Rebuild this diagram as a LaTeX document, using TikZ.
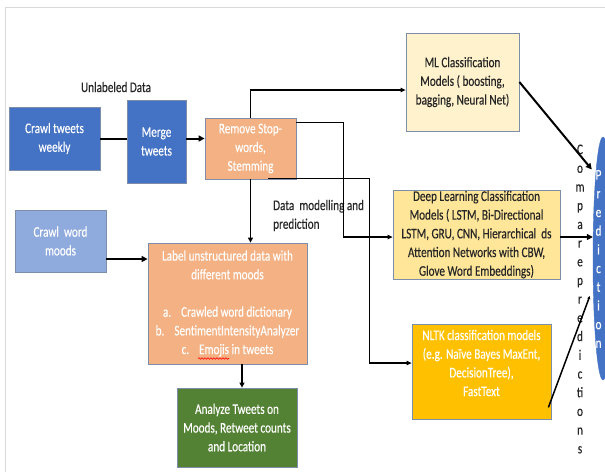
\documentclass[tikz,border=0pt]{standalone}
\usepackage{fontspec}
\setmainfont[FakeStretch=0.76,FakeBold=0.3]{Carlito}
\usetikzlibrary{arrows.meta,calc,shapes.geometric,decorations.pathmorphing}
\definecolor{blueA}{HTML}{4472C4}
\definecolor{blueL}{HTML}{8FAADC}
\definecolor{orng}{HTML}{F4B183}
\definecolor{ylwL}{HTML}{FFF2CC}
\definecolor{ylwM}{HTML}{FFE699}
\definecolor{gold}{HTML}{FFC000}
\definecolor{grn}{HTML}{548235}
\definecolor{edgec}{HTML}{7E8DA8}
\definecolor{framec}{HTML}{D9D9D9}
\definecolor{ink}{HTML}{262626}
\begin{document}
\begin{tikzpicture}[x=1pt,y=-1pt,
  txt/.style={font=\fontsize{14.7}{18.7}\selectfont, align=center, inner sep=0pt},
  box/.style={draw=edgec, line width=0.8pt, rectangle, inner sep=0pt, txt},
  thk/.style={line width=2pt, -{Triangle[length=6pt,width=6pt]}},
  thkplain/.style={line width=2pt},
  thn/.style={line width=1.1pt, -{Triangle[length=5pt,width=4.5pt]}},
  mid/.style={line width=1.5pt, -{Triangle[length=5pt,width=5pt]}}
]
\useasboundingbox (0,0) rectangle (605,472);
\draw[framec, line width=1pt] (5,472) -- (5,7) -- (605,7);

\node[box, fill=blueA, text=white, minimum width=91pt, minimum height=63pt] (crawl) at (54.5,138.5) {Crawl tweets\\weekly};
\node[box, fill=blueA, text=white, minimum width=59pt, minimum height=83pt] (merge) at (156.5,141.5) {Merge\\tweets};
\node[box, fill=orng, text=white, minimum width=91pt, minimum height=61pt] (remove) at (250.5,148.5) {Remove Stop-\\words,\\Stemming};
\node[box, fill=ylwL, text=ink, minimum width=113pt, minimum height=98pt] (ml) at (462.5,82) {ML Classification\\Models ( boosting,\\bagging, Neural Net)};
\node[box, fill=ylwM, text=ink, minimum width=167pt, minimum height=89pt] (deep) at (476.5,234.5) {Deep Learning Classification\\Models ( LSTM, Bi-Directional\\LSTM, GRU, CNN, Hierarchical\ \ ds\\Attention Networks with CBW,\\Glove Word Embeddings)};
\node[box, fill=gold, minimum width=139pt, minimum height=95pt] (nltk) at (481.5,371.5) {};
\node[txt, text=white] (nltkt) at (481.5,363) {NLTK classification models\\(e.g. Naïve Bayes MaxEnt,\\DecisionTree),\\FastText};
\node[box, fill=blueL, text=white, minimum width=91pt, minimum height=62pt] (moods) at (60.5,241) {Crawl\ \ word\\moods};
\node[box, fill=orng, text=white, minimum width=159pt, minimum height=121pt] (label) at (227.5,303.5) {Label unstructured data with\\different moods\\[18.7pt]a.\hspace{10pt}Crawled word dictionary\\b.\hspace{10pt}SentimentIntensityAnalyzer\\c.\hspace{10pt}Emojis in tweets};
\node[box, fill=grn, text=white, minimum width=120pt, minimum height=79pt] (analyze) at (237,427.5) {Analyze Tweets on\\Moods, Retweet counts\\and Location};
\node[ellipse, draw=blueA, fill=blueA, inner sep=0pt, minimum width=20pt, minimum height=243pt] (pred) at (603,258.5) {};
\node[txt, text=white] (predt) at (598.5,259) {P\\r\\e\\d\\i\\c\\t\\i\\o\\n};

\node[txt, text=ink] (unl) at (116,87) {Unlabeled Data};
\node[txt, text=ink, align=left, anchor=west] (dm) at (273,215.5) {Data\ \ modelling and\\prediction};
\node[txt, text=ink] (cmp) at (580,299) {C\\o\\m\\p\\a\\r\\e\\p\\r\\e\\d\\i\\c\\ti\\o\\n\\s};

% spell-check squiggle under "Emojis"
\draw[red, line width=0.6pt, decorate, decoration={snake, amplitude=0.8pt, segment length=3pt}] (198,358.5) -- (229,358.5);

% connectors
\draw[thkplain] (crawl.east) -- (crawl.east -| merge.west);
\draw[thk] (merge.east |- crawl.east) -- (remove.west |- crawl.east);
\draw[thn] (remove.north) |- ($(ml.west)+(0,8)$);
\draw[thn] ($(remove.north east)+(0,5)$) -| ($(deep.west)+(-49,2.5)$) -- ($(deep.west)+(0,2.5)$);
\draw[thn] ($(remove.south east)+(-28,-1)$) -| ($(nltk.west)+(-42,-8.5)$) -- ($(nltk.west)+(0,-8.5)$);
\draw[mid] (remove.south) -- (remove.south |- label.north);
\coordinate (m1) at ($(moods.east)+(0,18)$);
\draw[thk] (m1) -- (m1 -| label.west);
\coordinate (a1) at ($(analyze.north)+(5,0)$);
\draw[mid] (a1 |- label.south) -- (a1);
\coordinate (p1) at ($(pred.west)+(-1,-89)$);
\draw[thk] (ml.east) -- (p1);
\coordinate (d1) at ($(deep.east)+(0,2.5)$);
\draw[thk] (d1) -- (d1 -| pred.west);
\coordinate (n1) at ($(nltk.south east)+(-3,-12)$);
\coordinate (p2) at ($(pred.west)+(-3,37.5)$);
\draw[line width=1.5pt, -{Triangle[length=3pt,width=3pt]}] (n1) -- (p2);
\end{tikzpicture}
\end{document}
